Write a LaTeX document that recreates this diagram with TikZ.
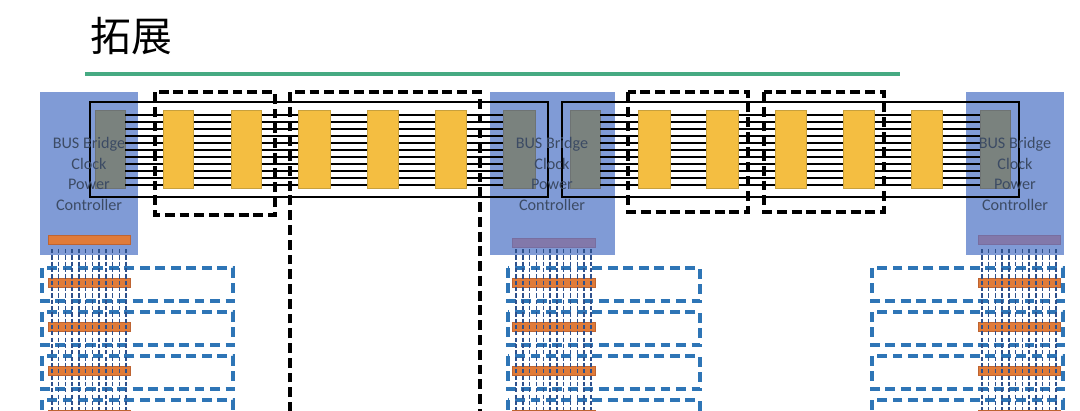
\documentclass[tikz,border=0pt]{standalone}
\usepackage{fontspec}
\setmainfont{Carlito}
\newfontfamily\cjk{Noto Sans CJK SC}
\definecolor{bbl}{RGB}{128,155,214}
\definecolor{gry}{RGB}{122,130,126}
\definecolor{gryd}{RGB}{110,115,115}
\definecolor{yel}{RGB}{244,190,65}
\definecolor{yeld}{RGB}{200,160,60}
\definecolor{dblue}{RGB}{46,117,182}
\definecolor{tickc}{RGB}{46,80,140}
\definecolor{org}{RGB}{224,123,57}
\definecolor{orgd}{RGB}{190,100,50}
\definecolor{purp}{RGB}{130,120,170}
\definecolor{purpd}{RGB}{120,110,160}
\definecolor{lblc}{RGB}{60,75,100}
\definecolor{grn}{RGB}{70,170,130}
\begin{document}
\begin{tikzpicture}[x=0.025cm,y=-0.025cm,
  bluebox/.style={fill=bbl},
  graybox/.style={fill=gry,draw=gryd,line width=0.4pt},
  ybox/.style={fill=yel,draw=yeld,line width=0.4pt},
  bus/.style={black,line width=0.9pt},
  blackdash/.style={draw=black,line width=2.8pt,dash pattern=on 7pt off 3.5pt},
  bluedash/.style={draw=dblue,line width=2.8pt,dash pattern=on 7pt off 4pt},
  tick/.style={draw=tickc,line width=1pt,dash pattern=on 3pt off 1.5pt},
  obar/.style={fill=org,draw=orgd,line width=0.4pt},
  pbar/.style={fill=purp,draw=purpd,line width=0.4pt},
  lbl/.style={text=lblc,font=\fontsize{11.5}{14.5}\selectfont,align=center}]
\useasboundingbox[fill=white] (0,0) rectangle (1080,410);
% title
\node[anchor=west,font=\cjk\fontsize{29}{32}\selectfont,inner sep=0pt] (title) at (90,36) {拓展};
\draw[line width=3pt,grn] (85,74) -- (900,74);
% blue boxes
\fill[bluebox] (40,92) rectangle (138,255);
\fill[bluebox] (490,92) rectangle (615,255);
\fill[bluebox] (966,92) rectangle (1064,255);
% gray boxes
\draw[graybox] (95,110) rectangle (125,188);
\draw[graybox] (503,110) rectangle (535,188);
\draw[graybox] (570,110) rectangle (600,188);
\draw[graybox] (980,110) rectangle (1010,188);
% loop lines
\draw[bus] (90,102) -- (548,102) -- (548,197) -- (90,197) -- cycle;
\draw[bus] (562,102) -- (1019,102) -- (1019,197) -- (562,197) -- cycle;
% bus lines
\foreach \i in {0,...,10}{
  \draw[bus] (125,{115+7*\i}) -- (503,{115+7*\i});
  \draw[bus] (600,{115+7*\i}) -- (980,{115+7*\i});
}
% yellow boxes
\foreach \a/\b in {163/193,231/261,298/330,367/398,435/466,638/670,706/738,775/806,843/874,911/942}
  \draw[ybox] (\a,110) rectangle (\b,188);
% black dashed groups
\draw[blackdash] (155,92) rectangle (275,215);
\draw[blackdash] (290,412) -- (290,92) -- (480,92) -- (480,412);
\draw[blackdash] (628,92) rectangle (748,212);
\draw[blackdash] (764,92) rectangle (884,212);
% labels
\foreach \cx/\n in {89/l,552/m,1015/r}
  \node[lbl] (lbl\n) at (\cx,174) {BUS Bridge\\Clock\\Power\\Controller};
% top bars
\draw[obar] (48,235) rectangle (130,244);
\draw[pbar] (512,238) rectangle (595,247);
\draw[pbar] (978,235) rectangle (1060,244);
% stacks
\foreach \x/\w/\bl/\br in {42/233/48/130,508/700/512/595,872/1063/978/1060}{
  \foreach \k in {0,1,2,3}{
    \draw[bluedash] (\x,{268+44*\k}) rectangle (\w,{301+44*\k});
    \draw[obar] (\bl,{278+44*\k}) rectangle (\br,{287+44*\k});
  }
  \foreach \t in {0,...,11}
    \draw[tick] ({\bl+4+\t*(\br-\bl-8)/11},249) -- ({\bl+4+\t*(\br-\bl-8)/11},410);
}
\end{tikzpicture}
\end{document}
